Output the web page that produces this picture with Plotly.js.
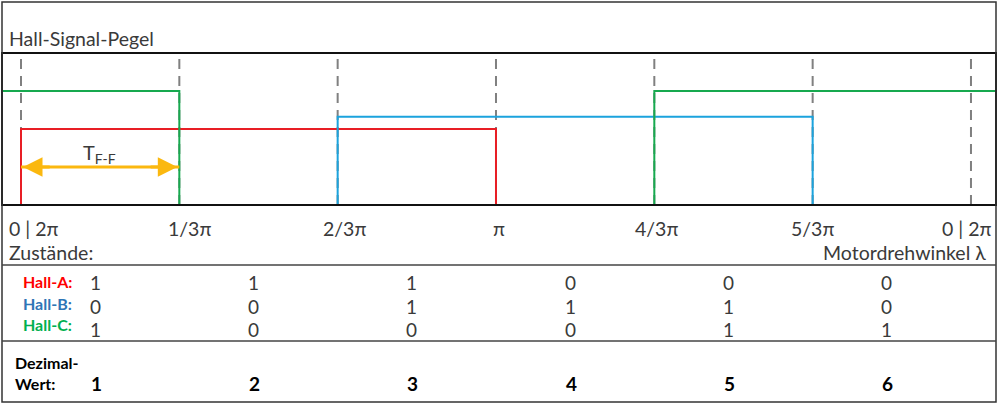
<!DOCTYPE html>
<html>
<head>
<meta charset="utf-8">
<script src="https://cdn.plot.ly/plotly-3.0.1.min.js"></script>
<style>html,body{margin:0;padding:0;background:#fff;}#chart{width:1000px;height:408px;}</style>
</head>
<body>
<div id="chart"></div>
<script>
// ---- data ----
const boundaries = [0, 1, 2, 3, 4, 5, 6];               // state borders in units of π/3
const tickLabels = ['0 | 2π', '1/3π', '2/3π', 'π', '4/3π', '5/3π', '0 | 2π'];
const signalNames = ['Hall-A:', 'Hall-B:', 'Hall-C:'];
const hallA = [1, 1, 1, 0, 0, 0];
const hallB = [0, 0, 1, 1, 1, 0];
const hallC = [1, 0, 0, 0, 1, 1];
const signalLevels = [0.5, 0.58, 0.75];                  // drawn height of the "high" level per signal
const decimalValues = [1, 2, 3, 4, 5, 6];
const arrowLevel = 0.25;

// ---- layout helpers ----
const W = 1000, H = 408, ML = 2, MR = 4, MT = 53, MB = 203;
const PH = H - MT - MB, PW = W - ML - MR;
const py = p => (H - MB - p) / PH;   // pixel row -> paper y
const pxp = p => (p - ML) / PW;      // pixel col -> paper x
const xMin = -0.12, xMax = 6.158;
const FONT = 'Lato, "Open Sans", sans-serif';
const TXT = '#3a3a3a';
const colors = ['#e81e25', '#1ba3dd', '#17a94f'];
const labelColors = ['#ff0000', '#2e75b6', '#00b050'];
const states = [hallA, hallB, hallC];

// ---- traces (waveforms built from the state table) ----
const traces = states.map((s, i) => {
  const xs = [xMin].concat(boundaries.slice(0, 6)).concat([xMax]);
  const vals = [s[5]].concat(s).concat([s[5]]);
  return {
    x: xs, y: vals.map(v => v * signalLevels[i]),
    type: 'scatter', mode: 'lines', line: {shape: 'hv', color: colors[i], width: 2},
    hoverinfo: 'skip', showlegend: false
  };
});

// ---- shapes ----
const shapes = [];
boundaries.forEach(b => shapes.push({
  type: 'line', xref: 'x', yref: 'paper', x0: b, x1: b, y0: 0, y1: 1, layer: 'below',
  line: {color: '#808080', width: 2, dash: '10px,7px'}
}));
shapes.push({type: 'rect', xref: 'paper', yref: 'paper', x0: 0, x1: 1, y0: 0, y1: 1,
  line: {color: '#111', width: 2}});
shapes.push({type: 'rect', xref: 'paper', yref: 'paper', x0: 0, x1: 1, y0: py(402), y1: py(2),
  line: {color: '#333', width: 1.5}});
[265, 341].forEach(p => shapes.push({type: 'line', xref: 'paper', yref: 'paper', x0: 0, x1: 1,
  y0: py(p), y1: py(p), line: {color: '#444', width: 1.5}}));
// T_F-F double arrow shaft
shapes.push({type: 'line', xref: 'x', yref: 'y', x0: boundaries[0], x1: boundaries[1], y0: arrowLevel, y1: arrowLevel,
  line: {color: '#fbb80f', width: 3}, layer: 'above'});

// ---- annotations ----
const ann = [];
const txt = (o) => Object.assign({showarrow: false, yanchor: 'middle'}, o);
const F = 19.5;
ann.push(txt({text: 'Hall-Signal-Pegel', xref: 'paper', yref: 'paper', x: pxp(7), y: py(38),
  xanchor: 'left', font: {family: FONT, size: F, color: TXT}}));
const tickShift = [-14, 10, 7, 3, 2, 0, 23];
tickLabels.forEach((t, i) => ann.push(txt({text: t, xref: 'x', yref: 'paper', x: boundaries[i], y: py(228),
  xanchor: i === 0 ? 'left' : (i === 6 ? 'right' : 'center'), xshift: tickShift[i],
  font: {family: FONT, size: F, color: TXT}})));
ann.push(txt({text: 'Zustände:', xref: 'paper', yref: 'paper', x: pxp(7), y: py(252), xanchor: 'left',
  font: {family: FONT, size: F, color: TXT}}));
ann.push(txt({text: 'Motordrehwinkel λ', xref: 'paper', yref: 'paper', x: pxp(988), y: py(252), xanchor: 'right',
  font: {family: FONT, size: F, color: TXT}}));
const rowY = [281, 303, 324];
const valY = [282, 306, 329];
signalNames.forEach((n, r) => {
  ann.push(txt({text: '<b>' + n + '</b>', xref: 'paper', yref: 'paper', x: pxp(74), y: py(rowY[r]), xanchor: 'right',
    font: {family: FONT, size: 16, color: labelColors[r]}}));
  states[r].forEach((v, k) => ann.push(txt({text: String(v), xref: 'x', yref: 'paper',
    x: (boundaries[k] + boundaries[k + 1]) / 2, xshift: -5, y: py(valY[r]), xanchor: 'center',
    font: {family: FONT, size: 19, color: TXT}})));
});
ann.push(txt({text: '<b>Dezimal-</b>', xref: 'paper', yref: 'paper', x: pxp(13), y: py(362), xanchor: 'left',
  font: {family: FONT, size: 16, color: '#000'}}));
ann.push(txt({text: '<b>Wert:</b>', xref: 'paper', yref: 'paper', x: pxp(13), y: py(384), xanchor: 'left',
  font: {family: FONT, size: 16, color: '#000'}}));
decimalValues.forEach((v, k) => ann.push(txt({text: '<b>' + v + '</b>', xref: 'x', yref: 'paper',
  x: (boundaries[k] + boundaries[k + 1]) / 2, xshift: -4, y: py(384), xanchor: 'center',
  font: {family: FONT, size: 19, color: '#000'}})));
// arrow heads (each annotation draws one head pointing to its end of the shaft)
[[boundaries[1], boundaries[0]], [boundaries[0], boundaries[1]]].forEach(([tip, tail]) => ann.push({
  x: tip, y: arrowLevel, ax: (tip * 0.8 + tail * 0.2), ay: arrowLevel, xref: 'x', yref: 'y',
  axref: 'x', ayref: 'y', text: ' ', showarrow: true, arrowhead: 2, arrowsize: 1.3, arrowwidth: 3,
  arrowcolor: '#fbb80f', standoff: 2}));
ann.push(txt({text: 'T<sub>F-F</sub>', xref: 'x', yref: 'y', x: (boundaries[0] + boundaries[1]) / 2, xshift: -1,
  y: arrowLevel, yshift: 14, xanchor: 'center', font: {family: FONT, size: 20, color: TXT}}));

const layout = {
  width: W, height: H, margin: {l: ML, r: MR, t: MT, b: MB, pad: 0},
  paper_bgcolor: '#fff', plot_bgcolor: '#fff', showlegend: false,
  xaxis: {range: [xMin, xMax], showgrid: false, zeroline: false, showticklabels: false, showline: false, ticks: '', fixedrange: true},
  yaxis: {range: [0, 1], showgrid: false, zeroline: false, showticklabels: false, showline: false, ticks: '', fixedrange: true},
  shapes: shapes, annotations: ann
};
Plotly.newPlot('chart', traces, layout, {staticPlot: true, displayModeBar: false});
</script>
</body>
</html>
